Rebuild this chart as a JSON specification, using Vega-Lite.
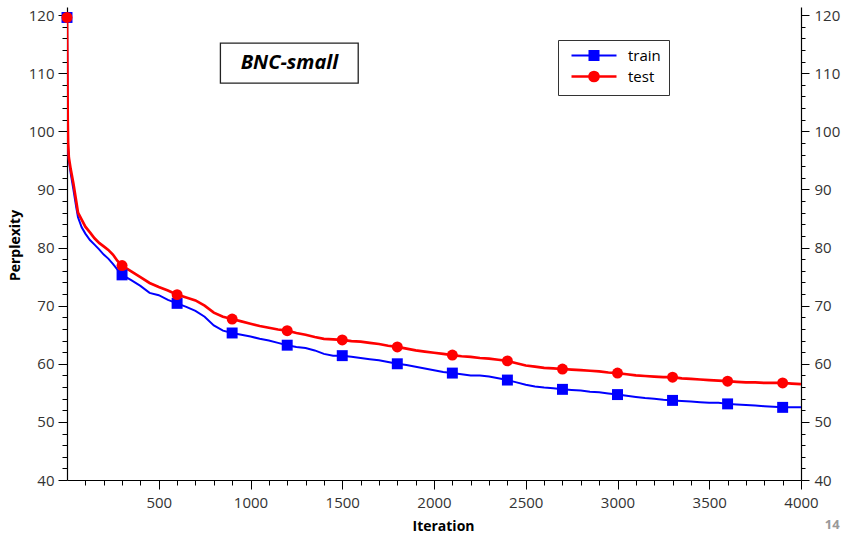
{
  "$schema": "https://vega.github.io/schema/vega-lite/v6.json",
  "width": 734,
  "height": 473,
  "autosize": {"type": "none"},
  "padding": {"left": 67, "top": 7, "right": 44, "bottom": 54},
  "background": "white",
  "config": {"view": {"stroke": null}, "font": "Open Sans"},
  "datasets": {
    "curves": [
      {"series": "train", "iter": 0, "ppl": 120},
      {"series": "train", "iter": 2, "ppl": 110},
      {"series": "train", "iter": 4, "ppl": 101},
      {"series": "train", "iter": 6, "ppl": 97},
      {"series": "train", "iter": 10, "ppl": 95},
      {"series": "train", "iter": 20, "ppl": 92.8},
      {"series": "train", "iter": 35, "ppl": 90},
      {"series": "train", "iter": 50, "ppl": 87},
      {"series": "train", "iter": 60, "ppl": 85.2},
      {"series": "train", "iter": 80, "ppl": 83.5},
      {"series": "train", "iter": 100, "ppl": 82.4},
      {"series": "train", "iter": 125, "ppl": 81.3},
      {"series": "train", "iter": 150, "ppl": 80.5},
      {"series": "train", "iter": 175, "ppl": 79.7},
      {"series": "train", "iter": 200, "ppl": 78.8},
      {"series": "train", "iter": 225, "ppl": 78.1},
      {"series": "train", "iter": 250, "ppl": 77.2},
      {"series": "train", "iter": 275, "ppl": 76.2},
      {"series": "train", "iter": 300, "ppl": 75.3},
      {"series": "train", "iter": 350, "ppl": 74.4},
      {"series": "train", "iter": 400, "ppl": 73.4},
      {"series": "train", "iter": 450, "ppl": 72.2},
      {"series": "train", "iter": 500, "ppl": 71.8},
      {"series": "train", "iter": 550, "ppl": 71.0},
      {"series": "train", "iter": 600, "ppl": 70.4},
      {"series": "train", "iter": 650, "ppl": 69.8},
      {"series": "train", "iter": 700, "ppl": 69.1},
      {"series": "train", "iter": 750, "ppl": 68.1},
      {"series": "train", "iter": 800, "ppl": 66.6},
      {"series": "train", "iter": 850, "ppl": 65.7},
      {"series": "train", "iter": 900, "ppl": 65.3},
      {"series": "train", "iter": 950, "ppl": 65.0},
      {"series": "train", "iter": 1000, "ppl": 64.7},
      {"series": "train", "iter": 1050, "ppl": 64.3},
      {"series": "train", "iter": 1100, "ppl": 64.0},
      {"series": "train", "iter": 1150, "ppl": 63.6},
      {"series": "train", "iter": 1200, "ppl": 63.2},
      {"series": "train", "iter": 1250, "ppl": 62.9},
      {"series": "train", "iter": 1300, "ppl": 62.7},
      {"series": "train", "iter": 1350, "ppl": 62.3},
      {"series": "train", "iter": 1400, "ppl": 61.7},
      {"series": "train", "iter": 1450, "ppl": 61.4},
      {"series": "train", "iter": 1500, "ppl": 61.4},
      {"series": "train", "iter": 1550, "ppl": 61.2},
      {"series": "train", "iter": 1600, "ppl": 61.0},
      {"series": "train", "iter": 1650, "ppl": 60.8},
      {"series": "train", "iter": 1700, "ppl": 60.6},
      {"series": "train", "iter": 1750, "ppl": 60.3},
      {"series": "train", "iter": 1800, "ppl": 60.0},
      {"series": "train", "iter": 1850, "ppl": 59.8},
      {"series": "train", "iter": 1900, "ppl": 59.5},
      {"series": "train", "iter": 1950, "ppl": 59.2},
      {"series": "train", "iter": 2000, "ppl": 58.9},
      {"series": "train", "iter": 2050, "ppl": 58.6},
      {"series": "train", "iter": 2100, "ppl": 58.4},
      {"series": "train", "iter": 2150, "ppl": 58.2},
      {"series": "train", "iter": 2200, "ppl": 58.0},
      {"series": "train", "iter": 2250, "ppl": 58.0},
      {"series": "train", "iter": 2300, "ppl": 57.8},
      {"series": "train", "iter": 2350, "ppl": 57.5},
      {"series": "train", "iter": 2400, "ppl": 57.2},
      {"series": "train", "iter": 2450, "ppl": 56.8},
      {"series": "train", "iter": 2500, "ppl": 56.4},
      {"series": "train", "iter": 2550, "ppl": 56.1},
      {"series": "train", "iter": 2600, "ppl": 55.9},
      {"series": "train", "iter": 2650, "ppl": 55.8},
      {"series": "train", "iter": 2700, "ppl": 55.6},
      {"series": "train", "iter": 2750, "ppl": 55.5},
      {"series": "train", "iter": 2800, "ppl": 55.4},
      {"series": "train", "iter": 2850, "ppl": 55.2},
      {"series": "train", "iter": 2900, "ppl": 55.1},
      {"series": "train", "iter": 2950, "ppl": 54.9},
      {"series": "train", "iter": 3000, "ppl": 54.7},
      {"series": "train", "iter": 3050, "ppl": 54.5},
      {"series": "train", "iter": 3100, "ppl": 54.3},
      {"series": "train", "iter": 3150, "ppl": 54.1},
      {"series": "train", "iter": 3200, "ppl": 54.0},
      {"series": "train", "iter": 3250, "ppl": 53.8},
      {"series": "train", "iter": 3300, "ppl": 53.7},
      {"series": "train", "iter": 3350, "ppl": 53.6},
      {"series": "train", "iter": 3400, "ppl": 53.5},
      {"series": "train", "iter": 3450, "ppl": 53.4},
      {"series": "train", "iter": 3500, "ppl": 53.3},
      {"series": "train", "iter": 3550, "ppl": 53.3},
      {"series": "train", "iter": 3600, "ppl": 53.1},
      {"series": "train", "iter": 3650, "ppl": 53.0},
      {"series": "train", "iter": 3700, "ppl": 52.9},
      {"series": "train", "iter": 3750, "ppl": 52.8},
      {"series": "train", "iter": 3800, "ppl": 52.7},
      {"series": "train", "iter": 3850, "ppl": 52.6},
      {"series": "train", "iter": 3900, "ppl": 52.5},
      {"series": "train", "iter": 3950, "ppl": 52.5},
      {"series": "train", "iter": 4000, "ppl": 52.5},
      {"series": "test", "iter": 0, "ppl": 120},
      {"series": "test", "iter": 2, "ppl": 111},
      {"series": "test", "iter": 4, "ppl": 102},
      {"series": "test", "iter": 6, "ppl": 98},
      {"series": "test", "iter": 10, "ppl": 95.5},
      {"series": "test", "iter": 20, "ppl": 93.5},
      {"series": "test", "iter": 35, "ppl": 91},
      {"series": "test", "iter": 50, "ppl": 88},
      {"series": "test", "iter": 60, "ppl": 86},
      {"series": "test", "iter": 80, "ppl": 84.8},
      {"series": "test", "iter": 100, "ppl": 83.6},
      {"series": "test", "iter": 125, "ppl": 82.6},
      {"series": "test", "iter": 150, "ppl": 81.6},
      {"series": "test", "iter": 175, "ppl": 80.8},
      {"series": "test", "iter": 200, "ppl": 80.2},
      {"series": "test", "iter": 225, "ppl": 79.6},
      {"series": "test", "iter": 250, "ppl": 78.8},
      {"series": "test", "iter": 275, "ppl": 77.7},
      {"series": "test", "iter": 300, "ppl": 76.9},
      {"series": "test", "iter": 350, "ppl": 75.9},
      {"series": "test", "iter": 400, "ppl": 74.9},
      {"series": "test", "iter": 450, "ppl": 73.9},
      {"series": "test", "iter": 500, "ppl": 73.2},
      {"series": "test", "iter": 550, "ppl": 72.6},
      {"series": "test", "iter": 600, "ppl": 71.9},
      {"series": "test", "iter": 650, "ppl": 71.4},
      {"series": "test", "iter": 700, "ppl": 70.9},
      {"series": "test", "iter": 750, "ppl": 70.0},
      {"series": "test", "iter": 800, "ppl": 68.8},
      {"series": "test", "iter": 850, "ppl": 68.1},
      {"series": "test", "iter": 900, "ppl": 67.7},
      {"series": "test", "iter": 950, "ppl": 67.3},
      {"series": "test", "iter": 1000, "ppl": 66.9},
      {"series": "test", "iter": 1050, "ppl": 66.5},
      {"series": "test", "iter": 1100, "ppl": 66.2},
      {"series": "test", "iter": 1150, "ppl": 65.9},
      {"series": "test", "iter": 1200, "ppl": 65.7},
      {"series": "test", "iter": 1250, "ppl": 65.3},
      {"series": "test", "iter": 1300, "ppl": 65.0},
      {"series": "test", "iter": 1350, "ppl": 64.6},
      {"series": "test", "iter": 1400, "ppl": 64.3},
      {"series": "test", "iter": 1450, "ppl": 64.2},
      {"series": "test", "iter": 1500, "ppl": 64.1},
      {"series": "test", "iter": 1550, "ppl": 63.9},
      {"series": "test", "iter": 1600, "ppl": 63.8},
      {"series": "test", "iter": 1650, "ppl": 63.6},
      {"series": "test", "iter": 1700, "ppl": 63.4},
      {"series": "test", "iter": 1750, "ppl": 63.1},
      {"series": "test", "iter": 1800, "ppl": 62.9},
      {"series": "test", "iter": 1850, "ppl": 62.6},
      {"series": "test", "iter": 1900, "ppl": 62.3},
      {"series": "test", "iter": 1950, "ppl": 62.1},
      {"series": "test", "iter": 2000, "ppl": 61.9},
      {"series": "test", "iter": 2050, "ppl": 61.7},
      {"series": "test", "iter": 2100, "ppl": 61.5},
      {"series": "test", "iter": 2150, "ppl": 61.3},
      {"series": "test", "iter": 2200, "ppl": 61.2},
      {"series": "test", "iter": 2250, "ppl": 61.0},
      {"series": "test", "iter": 2300, "ppl": 60.9},
      {"series": "test", "iter": 2350, "ppl": 60.7},
      {"series": "test", "iter": 2400, "ppl": 60.5},
      {"series": "test", "iter": 2450, "ppl": 60.1},
      {"series": "test", "iter": 2500, "ppl": 59.7},
      {"series": "test", "iter": 2550, "ppl": 59.5},
      {"series": "test", "iter": 2600, "ppl": 59.3},
      {"series": "test", "iter": 2650, "ppl": 59.2},
      {"series": "test", "iter": 2700, "ppl": 59.1},
      {"series": "test", "iter": 2750, "ppl": 59.0},
      {"series": "test", "iter": 2800, "ppl": 58.9},
      {"series": "test", "iter": 2850, "ppl": 58.8},
      {"series": "test", "iter": 2900, "ppl": 58.7},
      {"series": "test", "iter": 2950, "ppl": 58.5},
      {"series": "test", "iter": 3000, "ppl": 58.4},
      {"series": "test", "iter": 3050, "ppl": 58.2},
      {"series": "test", "iter": 3100, "ppl": 58.0},
      {"series": "test", "iter": 3150, "ppl": 57.9},
      {"series": "test", "iter": 3200, "ppl": 57.8},
      {"series": "test", "iter": 3250, "ppl": 57.7},
      {"series": "test", "iter": 3300, "ppl": 57.7},
      {"series": "test", "iter": 3350, "ppl": 57.5},
      {"series": "test", "iter": 3400, "ppl": 57.4},
      {"series": "test", "iter": 3450, "ppl": 57.3},
      {"series": "test", "iter": 3500, "ppl": 57.2},
      {"series": "test", "iter": 3550, "ppl": 57.1},
      {"series": "test", "iter": 3600, "ppl": 57.0},
      {"series": "test", "iter": 3650, "ppl": 56.9},
      {"series": "test", "iter": 3700, "ppl": 56.8},
      {"series": "test", "iter": 3750, "ppl": 56.8},
      {"series": "test", "iter": 3800, "ppl": 56.7},
      {"series": "test", "iter": 3850, "ppl": 56.7},
      {"series": "test", "iter": 3900, "ppl": 56.7},
      {"series": "test", "iter": 3950, "ppl": 56.6},
      {"series": "test", "iter": 4000, "ppl": 56.5}
    ],
    "markers": [
      {"series": "train", "iter": 0, "ppl": 119.6},
      {"series": "train", "iter": 300, "ppl": 75.3},
      {"series": "train", "iter": 600, "ppl": 70.4},
      {"series": "train", "iter": 900, "ppl": 65.3},
      {"series": "train", "iter": 1200, "ppl": 63.2},
      {"series": "train", "iter": 1500, "ppl": 61.4},
      {"series": "train", "iter": 1800, "ppl": 60.0},
      {"series": "train", "iter": 2100, "ppl": 58.4},
      {"series": "train", "iter": 2400, "ppl": 57.2},
      {"series": "train", "iter": 2700, "ppl": 55.6},
      {"series": "train", "iter": 3000, "ppl": 54.7},
      {"series": "train", "iter": 3300, "ppl": 53.7},
      {"series": "train", "iter": 3600, "ppl": 53.1},
      {"series": "train", "iter": 3900, "ppl": 52.5},
      {"series": "test", "iter": 0, "ppl": 119.6},
      {"series": "test", "iter": 300, "ppl": 76.9},
      {"series": "test", "iter": 600, "ppl": 71.9},
      {"series": "test", "iter": 900, "ppl": 67.7},
      {"series": "test", "iter": 1200, "ppl": 65.7},
      {"series": "test", "iter": 1500, "ppl": 64.1},
      {"series": "test", "iter": 1800, "ppl": 62.9},
      {"series": "test", "iter": 2100, "ppl": 61.5},
      {"series": "test", "iter": 2400, "ppl": 60.5},
      {"series": "test", "iter": 2700, "ppl": 59.1},
      {"series": "test", "iter": 3000, "ppl": 58.4},
      {"series": "test", "iter": 3300, "ppl": 57.7},
      {"series": "test", "iter": 3600, "ppl": 57.0},
      {"series": "test", "iter": 3900, "ppl": 56.7}
    ]
  },
  "layer": [
    {
      "data": {"name": "curves"},
      "mark": {"type": "line", "clip": true},
      "encoding": {
        "x": {
          "field": "iter", "type": "quantitative",
          "scale": {"domain": [0, 4000], "nice": false, "zero": false},
          "axis": {
            "orient": "bottom",
            "title": "Iteration",
            "values": [100,200,300,400,500,600,700,800,900,1000,1100,1200,1300,1400,1500,1600,1700,1800,1900,2000,2100,2200,2300,2400,2500,2600,2700,2800,2900,3000,3100,3200,3300,3400,3500,3600,3700,3800,3900,4000],
            "format": "d",
            "labelExpr": "datum.value % 500 === 0 ? datum.label : ''",
            "tickSize": {"condition": {"test": "datum.value % 500 === 0", "value": 9}, "value": 5},
            "labelOverlap": false, "labelFlush": false, "labelBound": false,
            "grid": false,
            "domainColor": "black", "domainWidth": 1.2,
            "tickColor": "black", "tickWidth": 1,
            "labelColor": "#333", "labelFontSize": 15, "labelFont": "Open Sans", "labelPadding": 6,
            "titleFont": "Open Sans", "titleFontSize": 14, "titleFontWeight": "bold", "titleColor": "black",
            "titleX": 376, "titleY": 50, "titleBaseline": "alphabetic"
          }
        },
        "y": {
          "field": "ppl", "type": "quantitative",
          "scale": {"domain": [40, 121.4], "nice": false, "zero": false},
          "axis": {
            "orient": "left",
            "title": "Perplexity",
            "values": [40,42,44,46,48,50,52,54,56,58,60,62,64,66,68,70,72,74,76,78,80,82,84,86,88,90,92,94,96,98,100,102,104,106,108,110,112,114,116,118,120],
            "labelExpr": "datum.value % 10 === 0 ? datum.label : ''",
            "tickSize": {"condition": {"test": "datum.value % 10 === 0", "value": 9}, "value": 5},
            "labelOverlap": false, "labelFlush": false, "labelBound": false,
            "grid": false,
            "domainColor": "black", "domainWidth": 1.2,
            "tickColor": "black", "tickWidth": 1,
            "labelColor": "#333", "labelFontSize": 15, "labelFont": "Open Sans", "labelPadding": 4,
            "titleFont": "Open Sans", "titleFontSize": 14, "titleFontWeight": "bold", "titleColor": "black",
            "titleAngle": 270, "titleX": -52, "titleY": 238, "titleBaseline": "middle", "titleAlign": "center"
          }
        },
        "color": {
          "field": "series", "type": "nominal",
          "scale": {"domain": ["train", "test"], "range": ["#0000ff", "#ff0000"]},
          "legend": {
            "title": null,
            "orient": "none", "legendX": 491, "legendY": 33,
            "strokeColor": "#333", "fillColor": "white", "padding": 8, "rowPadding": 2,
            "symbolSize": 100, "labelOffset": 47, "labelFontSize": 15, "labelColor": "black", "labelFont": "Open Sans",
            "symbolStrokeWidth": 2,
            "encode": {
              "symbols": {
                "update": {
                  "shape": {"signal": "datum.value === 'train' ? 'M-0.4,0H8.6M3.2,-0.9H5V0.9H3.2Z' : 'M-0.4,0H8.6M3.2,0A0.9,0.9 0 1,0 5,0A0.9,0.9 0 1,0 3.2,0Z'"},
                  "fill": {"scale": "color", "field": "value"},
                  "stroke": {"scale": "color", "field": "value"},
                  "strokeWidth": {"value": 2},
                  "opacity": {"value": 1}
                }
              }
            }
          }
        },
        "strokeWidth": {
          "field": "series", "type": "nominal",
          "scale": {"domain": ["train", "test"], "range": [2, 2.7]},
          "legend": null
        }
      }
    },
    {
      "data": {"name": "markers"},
      "transform": [{"filter": "datum.series === 'train'"}],
      "mark": {"type": "point", "shape": "square", "filled": true, "opacity": 1, "size": 120, "color": "#0000ff"},
      "encoding": {
        "x": {"field": "iter", "type": "quantitative", "scale": {"domain": [0, 4000], "nice": false, "zero": false}, "axis": null},
        "y": {
          "field": "ppl", "type": "quantitative",
          "scale": {"domain": [40, 121.4], "nice": false, "zero": false},
          "axis": {
            "orient": "right",
            "title": null,
            "values": [40,42,44,46,48,50,52,54,56,58,60,62,64,66,68,70,72,74,76,78,80,82,84,86,88,90,92,94,96,98,100,102,104,106,108,110,112,114,116,118,120],
            "labelExpr": "datum.value % 10 === 0 ? datum.label : ''",
            "tickSize": {"condition": {"test": "datum.value % 10 === 0", "value": 8}, "value": 4},
            "labelOverlap": false, "labelFlush": false, "labelBound": false,
            "grid": false,
            "domainColor": "black", "domainWidth": 1.2,
            "tickColor": "black", "tickWidth": 1,
            "labelColor": "#333", "labelFontSize": 15, "labelFont": "Open Sans", "labelPadding": 5
          }
        }
      }
    },
    {
      "data": {"name": "markers"},
      "transform": [{"filter": "datum.series === 'test'"}],
      "mark": {"type": "point", "shape": "circle", "filled": true, "opacity": 1, "size": 120, "color": "#ff0000"},
      "encoding": {
        "x": {"field": "iter", "type": "quantitative", "scale": {"domain": [0, 4000], "nice": false, "zero": false}, "axis": null},
        "y": {"field": "ppl", "type": "quantitative", "scale": {"domain": [40, 121.4], "nice": false, "zero": false}, "axis": null}
      }
    },
    {
      "data": {"values": [{}]},
      "mark": {"type": "rect", "fill": "white", "stroke": "#222", "strokeWidth": 1.3},
      "encoding": {
        "x": {"datum": 836, "type": "quantitative", "scale": {"domain": [0, 4000], "nice": false, "zero": false}, "axis": null},
        "x2": {"datum": 1587},
        "y": {"datum": 115.18, "type": "quantitative", "scale": {"domain": [40, 121.4], "nice": false, "zero": false}, "axis": null},
        "y2": {"datum": 108.3}
      }
    },
    {
      "data": {"values": [{"label": "BNC-small"}]},
      "mark": {"type": "text", "font": "Open Sans", "fontSize": 20, "fontWeight": "bold", "fontStyle": "italic", "color": "black", "align": "center", "baseline": "middle"},
      "encoding": {
        "text": {"field": "label"},
        "x": {"datum": 1212, "type": "quantitative", "scale": {"domain": [0, 4000], "nice": false, "zero": false}, "axis": null},
        "y": {"datum": 111.7, "type": "quantitative", "scale": {"domain": [40, 121.4], "nice": false, "zero": false}, "axis": null}
      }
    },
    {
      "data": {"values": [{"label": "14"}]},
      "mark": {"type": "text", "font": "Open Sans", "fontSize": 13, "fontWeight": "bold", "color": "#999", "align": "center", "baseline": "middle"},
      "encoding": {
        "text": {"field": "label"},
        "x": {"datum": 4170, "type": "quantitative", "scale": {"domain": [0, 4000], "nice": false, "zero": false}, "axis": null},
        "y": {"datum": 32.3, "type": "quantitative", "scale": {"domain": [40, 121.4], "nice": false, "zero": false}, "axis": null}
      }
    }
  ],
  "resolve": {"axis": {"x": "independent", "y": "independent"}}
}
